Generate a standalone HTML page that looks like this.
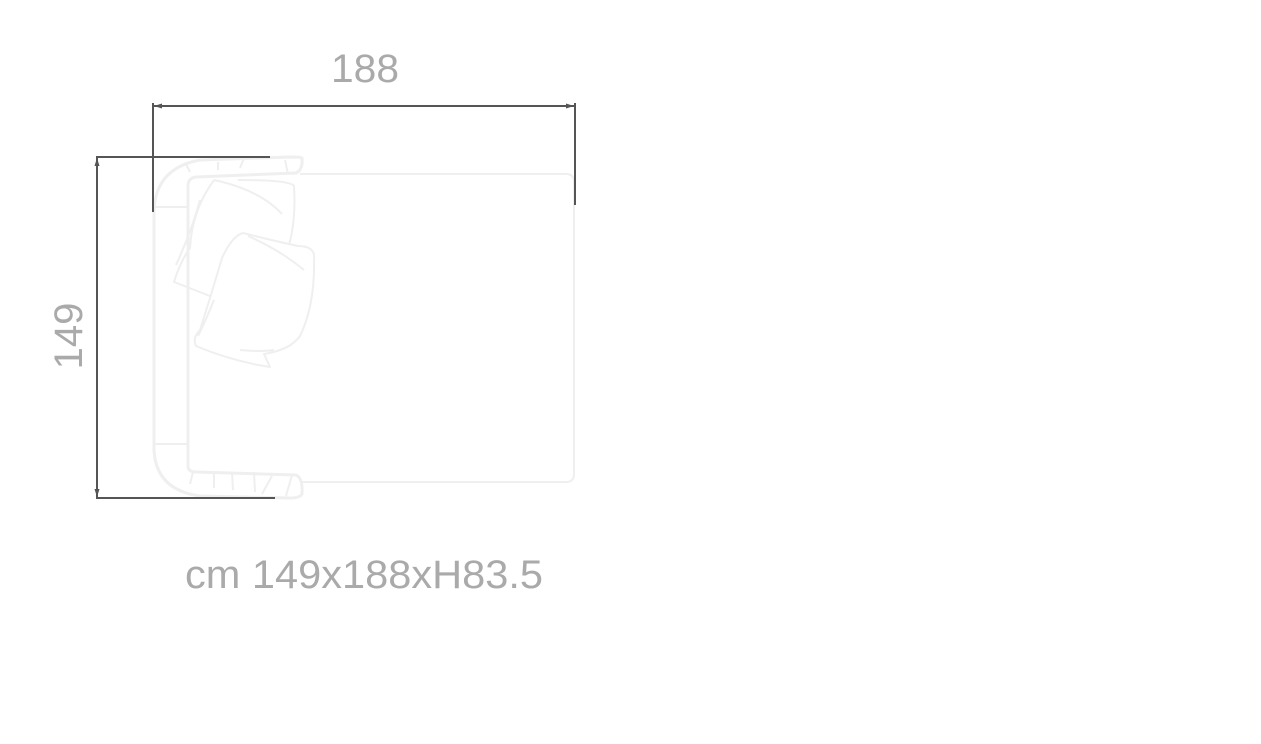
<!DOCTYPE html>
<html><head><meta charset="utf-8"><style>
html,body{margin:0;padding:0;background:#fff;width:1261px;height:744px;overflow:hidden}
svg{position:absolute;left:0;top:0}
</style></head><body>
<svg width="1261" height="744" viewBox="0 0 1261 744" xmlns="http://www.w3.org/2000/svg" font-family="'Liberation Sans', sans-serif">
<g fill="none" stroke="#efefef" stroke-width="2" stroke-linejoin="round">
<path d="M300 174 H566 Q574 174 574 182 V474 Q574 482 566 482 H300"/>
<path d="M302 158 Q303 170 296 173 L196 177 Q188 178 188 186 V466 Q188 472 196 472 L296 475 Q303 478 302 494 Q300 498 290 498 L200 496 Q156 490 154 450 V210 Q156 168 200 160 L290 157 Q302 157 302 158 Z" stroke-width="3"/>
<path d="M154 207 H188 M154 444 H188"/>
<path d="M190 172 L186 164 M218 170 L218 162 M240 168 L244 158 M288 174 L285 160"/>
<path d="M193 472 L190 484 M214 472 L214 488 M232 472 L233 490 M254 472 L255 492 M272 476 L262 494 M292 475 L286 496"/>
<path d="M238 180 Q290 180 294 186 Q296 220 289 245 M214 180 Q260 190 282 214 M214 180 Q192 210 190 248 Q180 262 174 282 L210 296 M200 200 Q192 230 176 265"/>
<path d="M243 233 Q270 240 298 246 Q316 246 314 260 Q315 305 300 336 Q290 350 264 354 L270 367 L258 365 Q224 358 196 346 Q192 338 200 330 Q212 292 222 258 Q232 236 243 233 M214 300 Q206 320 198 336 M240 350 Q260 352 274 350 M248 236 Q280 250 304 270"/>
</g>
<g stroke="#555" stroke-width="2" fill="none">
<path d="M153 106 H575 M153 103 V212 M575 103 V205"/>
<path d="M96 157 H270 M97 157 V498 M96 498 H275"/>
</g>
<g fill="#555">
<path d="M154 106 l8 -2.5 v5 z M574 106 l-8 -2.5 v5 z M97 158 l-2.5 8 h5 z M97 497 l-2.5 -8 h5 z"/>
</g>
<g fill="#aaa" font-size="40">
<text x="365" y="82" text-anchor="middle" textLength="68" lengthAdjust="spacingAndGlyphs">188</text>
<text transform="translate(82 336) rotate(-90)" text-anchor="middle">149</text>
<text x="185" y="588" textLength="358" lengthAdjust="spacingAndGlyphs">cm 149x188xH83.5</text>
</g>
</svg>
</body></html>
